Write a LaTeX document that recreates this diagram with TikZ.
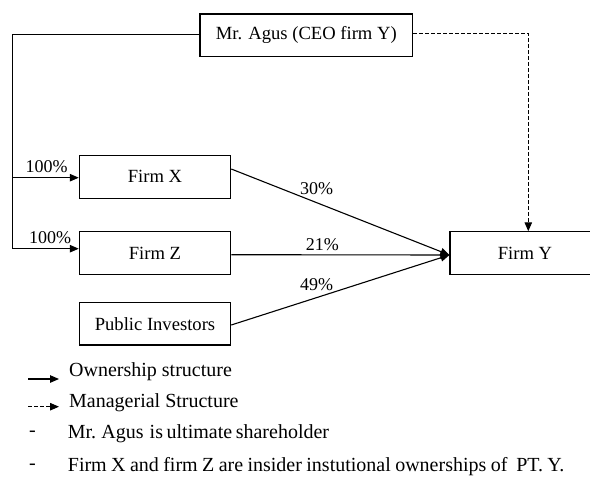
\documentclass[tikz,border=0pt]{standalone}
\usepackage{fontspec}
\setmainfont{Liberation Serif}
\usetikzlibrary{arrows.meta}
\begin{document}
\begin{tikzpicture}[x=1pt,y=-1pt,
  box/.style={draw,line width=1.1pt,minimum height=43pt,inner sep=0pt,font=\fontsize{18.6}{20}\selectfont},
  conn/.style={line width=1.1pt},
  tip/.style={-{Triangle[length=9pt,width=7.5pt]}},
  dashconn/.style={line width=1.1pt,dash pattern=on 3.5pt off 2.5pt},
  lbl/.style={font=\fontsize{18}{20}\selectfont,inner sep=0pt},
  leg/.style={font=\fontsize{20}{22}\selectfont,inner sep=0pt,anchor=west}]
\useasboundingbox (0,0) rectangle (590,477);

\node[box,minimum width=212.7pt,minimum height=42.7pt] (agus) at (306.3,35.3) {Mr. Agus (CEO firm Y)};
\node[box,minimum width=151.4pt] (fx) at (155,176.7) {Firm X};
\node[box,minimum width=151.4pt] (fz) at (155,253) {Firm Z};
\node[box,minimum width=151.4pt,minimum height=42.3pt] (pub) at (155,323.8) {Public Investors};
\node[box,minimum width=150pt] (fy) at (525,253.3) {Firm Y};

\coordinate (corner) at (12.3,34.3);
\coordinate (vx) at (12.3,177.7);
\coordinate (vz) at (12.3,248.7);
\coordinate (dcorner) at (528.3,33.3);
\coordinate (conv) at ([yshift=-1.7pt]fy.west);

% ownership from Mr. Agus
\draw[conn] (agus.west |- corner) -- (corner) -- (vz);
\draw[conn,tip] (vx) -- (fx.west |- vx);
\draw[conn,tip] (vz) -- (fz.west |- vz);

% ownership of Firm Y
\draw[conn,tip] ([yshift=7.7pt]fx.east) -- (conv);
\draw[conn,tip] ([yshift=-1.7pt]fz.east) -- (conv);
\draw[conn,tip] ([yshift=-1.2pt]pub.east) -- (conv);

% managerial
\draw[dashconn,tip] (agus.east |- dcorner) -- (dcorner) -- (dcorner |- fy.north);

% labels
\node[lbl] (l1) at (46.7,166.7) {100\%};
\node[lbl] (l2) at (50,237.3) {100\%};
\node[lbl] (l3) at (316.7,188.3) {30\%};
\node[lbl] (l4) at (322.3,245) {21\%};
\node[lbl] (l5) at (316.7,285) {49\%};

% legend
\coordinate (a1) at (28,379);
\coordinate (a2) at (59,379);
\coordinate (b1) at (28,406.7);
\coordinate (b2) at (59,406.7);
\draw[conn,tip] (a1) -- (a2);
\draw[dashconn,tip] (b1) -- (b2);
\node[leg] (t1) at (69,372) {Ownership structure};
\node[leg] (t2) at (69,403) {Managerial Structure};
\node[leg] (d1) at (29,434) {-};
\node[leg] (t3) at (67.7,434) {\spaceskip=0.18em Mr. Agus\hspace{0.12em} is ultimate shareholder};
\node[leg] (d2) at (29,467) {-};
\node[leg] (t4) at (67.7,467) {\spaceskip=0.22em Firm X and firm Z are insider instutional ownerships of\ \ PT. Y.};
\end{tikzpicture}
\end{document}
